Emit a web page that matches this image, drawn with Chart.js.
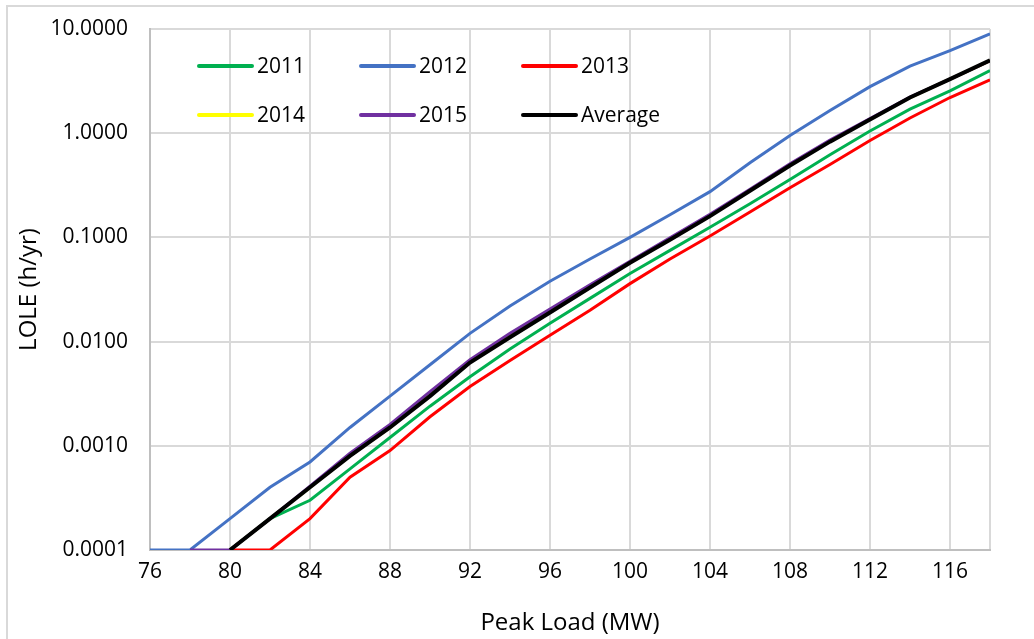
<!DOCTYPE html>
<html>
<head>
<meta charset="utf-8">
<script src="https://cdn.jsdelivr.net/npm/chart.js@4.4.1/dist/chart.umd.min.js"></script>
<style>
	html, body { margin: 0; padding: 0; background: #fff; }
	#wrap { position: relative; width: 1034px; height: 639px; }
</style>
</head>
<body>
<div id="wrap"><canvas id="myChart" width="1034" height="639"></canvas></div>
<script>
Chart.defaults.font.family = "'Open Sans', sans-serif";
Chart.defaults.color = "#000";

// peak load (MW)
const loads = [76, 78, 80, 82, 84, 86, 88, 90, 92, 94, 96, 98, 100, 102, 104, 106, 108, 110, 112, 114, 116, 118];

// LOLE (h/yr) per year
const lole2011 = [null, null, 0.0001, 0.0002, 0.0003, 0.0006, 0.0012, 0.0024, 0.0046, 0.0085, 0.015, 0.026, 0.045, 0.075, 0.125, 0.21, 0.36, 0.62, 1.05, 1.7, 2.55, 4.0];
const lole2012 = [0.0001, 0.0001, 0.0002, 0.0004, 0.0007, 0.0015, 0.003, 0.006, 0.012, 0.022, 0.038, 0.062, 0.1, 0.165, 0.275, 0.52, 0.95, 1.65, 2.8, 4.4, 6.2, 9.0];
const lole2013 = [null, null, 0.0001, 0.0001, 0.0002, 0.0005, 0.0009, 0.0019, 0.0037, 0.0066, 0.0115, 0.02, 0.036, 0.062, 0.103, 0.175, 0.3, 0.5, 0.85, 1.4, 2.2, 3.25];
const lole2014 = [null, null, 0.0001, 0.0002, 0.0004, 0.0008, 0.0015, 0.0031, 0.0064, 0.0113, 0.0195, 0.034, 0.058, 0.097, 0.163, 0.285, 0.5, 0.84, 1.36, 2.2, 3.3, 4.95];
const lole2015 = [null, 0.0001, 0.0001, 0.0002, 0.00041, 0.00085, 0.0016, 0.0033, 0.0067, 0.012, 0.0205, 0.035, 0.059, 0.099, 0.167, 0.29, 0.51, 0.86, 1.38, 2.22, 3.3, 4.95];
const loleAvg = [null, null, 0.0001, 0.0002, 0.0004, 0.0008, 0.0015, 0.003, 0.0063, 0.011, 0.019, 0.033, 0.057, 0.095, 0.16, 0.28, 0.49, 0.83, 1.35, 2.2, 3.3, 5.0];

const xTicks = [76, 80, 84, 88, 92, 96, 100, 104, 108, 112, 116, 118];
const yTicks = [0.0001, 0.001, 0.01, 0.1, 1, 10];

const series = [
	{ label: "2011", values: lole2011, color: "#00b050", width: 3 },
	{ label: "2012", values: lole2012, color: "#4472c4", width: 3 },
	{ label: "2013", values: lole2013, color: "#ff0000", width: 3 },
	{ label: "2014", values: lole2014, color: "#ffff00", width: 3 },
	{ label: "2015", values: lole2015, color: "#7030a0", width: 3 },
	{ label: "Average", values: loleAvg, color: "#000000", width: 4 },
];

const datasets = series.map((s, i) => ({
	label: s.label,
	data: loads.map((x, j) => ({ x: x, y: s.values[j] })),
	borderColor: s.color,
	backgroundColor: s.color,
	borderWidth: s.width,
	pointRadius: 0,
	tension: 0,
	// later series on top, like Excel
	order: series.length - i,
}));

// legend inside the plot, 3 columns x 2 rows
const insideLegend = {
	id: "insideLegend",
	afterDraw(chart) {
		const ctx = chart.ctx;
		const area = chart.chartArea;
		ctx.save();
		ctx.font = "21px 'Open Sans', sans-serif";
		ctx.textBaseline = "middle";
		ctx.lineCap = "round";
		series.forEach((s, i) => {
			const col = i % 3;
			const row = Math.floor(i / 3);
			const x0 = area.left + 49 + col * 162;
			const y0 = area.top + 37 + row * 49;
			ctx.strokeStyle = s.color;
			ctx.lineWidth = 4;
			ctx.beginPath();
			ctx.moveTo(x0, y0);
			ctx.lineTo(x0 + 53, y0);
			ctx.stroke();
			ctx.fillStyle = "#000";
			ctx.fillText(s.label, x0 + 58, y0 + 1);
		});
		ctx.restore();
	},
};

// thin frame round the chart
const frame = {
	id: "frame",
	beforeDraw(chart) {
		const ctx = chart.ctx;
		ctx.save();
		ctx.strokeStyle = "#d9d9d9";
		ctx.lineWidth = 2;
		ctx.beginPath();
		ctx.moveTo(7, 640);
		ctx.lineTo(7, 6);
		ctx.lineTo(1034, 6);
		ctx.stroke();
		ctx.restore();
	},
};

const config = {
	type: "line",
	data: { datasets },
	options: {
		responsive: false,
		animation: false,
		layout: {
			padding: { top: 29, right: 44, left: 0, bottom: 0 },
		},
		plugins: {
			legend: { display: false },
			tooltip: { enabled: false },
		},
		scales: {
			x: {
				type: "linear",
				min: 76,
				max: 118,
				afterBuildTicks: (scale) => {
					scale.ticks = xTicks.map((v) => ({ value: v }));
				},
				afterFit: (scale) => {
					scale.height = 89;
					scale.paddingLeft = 0;
					scale.paddingRight = 0;
				},
				grid: { color: "#d9d9d9", lineWidth: 2, drawTicks: false },
				border: { color: "#bfbfbf", width: 2 },
				ticks: {
					padding: 9,
					font: { size: 21 },
					callback: (val) => (val === 118 ? "" : val),
				},
				title: {
					display: true,
					text: "Peak Load (MW)",
					font: { size: 24 },
					padding: { top: 0, bottom: 1 },
				},
			},
			y: {
				type: "logarithmic",
				min: 0.0001,
				max: 10,
				afterBuildTicks: (scale) => {
					scale.ticks = yTicks.map((v) => ({ value: v }));
				},
				afterFit: (scale) => {
					scale.width = 150;
					scale.paddingTop = 0;
					scale.paddingBottom = 0;
				},
				grid: { color: "#d9d9d9", lineWidth: 2, drawTicks: false },
				border: { color: "#bfbfbf", width: 2 },
				ticks: {
					padding: 22,
					font: { size: 21 },
					callback: (val) => Number(val).toFixed(4),
				},
				title: {
					display: true,
					text: "LOLE (h/yr)",
					font: { size: 24 },
					padding: { top: 15, bottom: 0 },
				},
			},
		},
	},
	plugins: [frame, insideLegend],
};

const ctx = document.getElementById("myChart").getContext("2d");
new Chart(ctx, config);
</script>
</body>
</html>
